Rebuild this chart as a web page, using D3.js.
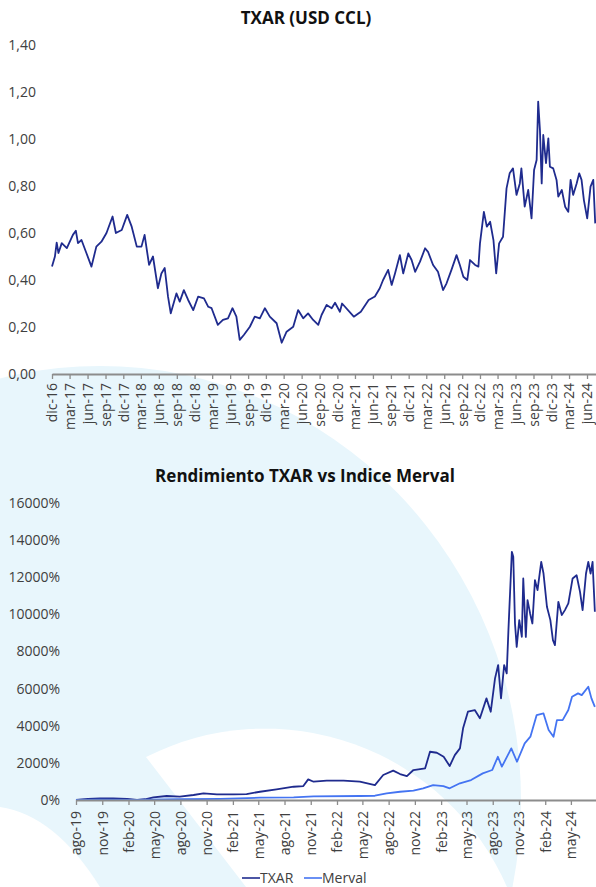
<!DOCTYPE html>
<html><head><meta charset="utf-8">
<script src="https://cdn.jsdelivr.net/npm/d3@7"></script>
<style>
html,body{margin:0;padding:0;background:#fff;}
svg{display:block;font-family:"Open Sans","Noto Sans",sans-serif;}
</style></head><body>
<svg id="c" width="596" height="887"></svg>
<script>
// ---------- DATA ----------
const priceDates = ["2016-12-01","2016-12-16","2016-12-25","2017-01-03","2017-01-20","2017-02-15","2017-03-18","2017-04-02","2017-04-13","2017-05-01","2017-05-26","2017-06-21","2017-07-16","2017-08-11","2017-09-06","2017-10-07","2017-10-24","2017-11-23","2017-12-21","2018-01-13","2018-02-08","2018-03-04","2018-03-20","2018-04-12","2018-05-02","2018-05-27","2018-06-14","2018-07-01","2018-07-18","2018-08-01","2018-08-30","2018-09-16","2018-10-07","2018-10-29","2018-11-24","2018-12-19","2019-01-18","2019-02-09","2019-02-26","2019-03-30","2019-04-25","2019-05-21","2019-06-13","2019-07-03","2019-07-20","2019-08-10","2019-09-10","2019-10-05","2019-10-31","2019-11-26","2019-12-21","2020-01-25","2020-02-20","2020-03-16","2020-04-19","2020-05-14","2020-06-09","2020-07-04","2020-07-30","2020-08-25","2020-09-11","2020-10-07","2020-11-02","2020-11-19","2020-12-14","2020-12-25","2021-02-23","2021-03-31","2021-05-10","2021-06-11","2021-07-06","2021-07-23","2021-08-18","2021-09-05","2021-09-22","2021-10-17","2021-11-03","2021-11-29","2021-12-16","2022-01-03","2022-01-28","2022-02-23","2022-03-10","2022-04-05","2022-04-30","2022-05-26","2022-06-13","2022-07-08","2022-08-03","2022-08-20","2022-09-07","2022-09-27","2022-10-11","2022-11-06","2022-11-23","2022-12-01","2022-12-21","2023-01-05","2023-01-22","2023-02-08","2023-02-22","2023-03-09","2023-03-29","2023-04-16","2023-05-02","2023-05-19","2023-06-06","2023-06-23","2023-07-01","2023-07-18","2023-08-05","2023-08-22","2023-09-04","2023-09-17","2023-09-25","2023-10-04","2023-10-13","2023-10-21","2023-11-04","2023-11-16","2023-11-24","2023-12-11","2023-12-28","2024-01-06","2024-01-24","2024-02-10","2024-02-26","2024-03-09","2024-03-22","2024-04-09","2024-04-22","2024-05-04","2024-05-16","2024-06-02","2024-06-19","2024-07-03","2024-07-13"];
const priceValues = [0.457,0.50,0.559,0.515,0.557,0.536,0.592,0.61,0.557,0.57,0.515,0.457,0.542,0.563,0.60,0.67,0.60,0.613,0.677,0.627,0.542,0.542,0.592,0.464,0.50,0.365,0.428,0.451,0.329,0.258,0.343,0.308,0.357,0.315,0.272,0.329,0.322,0.286,0.28,0.209,0.23,0.237,0.28,0.244,0.145,0.166,0.201,0.244,0.237,0.28,0.244,0.216,0.133,0.18,0.201,0.272,0.237,0.258,0.23,0.209,0.251,0.294,0.28,0.303,0.265,0.30,0.244,0.265,0.315,0.33,0.365,0.40,0.443,0.379,0.428,0.506,0.428,0.513,0.485,0.435,0.478,0.535,0.52,0.464,0.435,0.357,0.386,0.443,0.506,0.464,0.414,0.40,0.485,0.464,0.457,0.556,0.69,0.627,0.648,0.57,0.428,0.556,0.584,0.79,0.854,0.875,0.762,0.811,0.875,0.712,0.783,0.662,0.868,0.911,1.159,1.038,0.811,1.017,0.897,1.003,0.882,0.875,0.826,0.755,0.783,0.712,0.69,0.826,0.762,0.811,0.854,0.826,0.74,0.662,0.797,0.826,0.641];
const priceTicks = [0,0.2,0.4,0.6,0.8,1.0,1.2,1.4];
const priceMonthLabels = ["dic-16","mar-17","jun-17","sep-17","dic-17","mar-18","jun-18","sep-18","dic-18","mar-19","jun-19","sep-19","dic-19","mar-20","jun-20","sep-20","dic-20","mar-21","jun-21","sep-21","dic-21","mar-22","jun-22","sep-22","dic-22","mar-23","jun-23","sep-23","dic-23","mar-24","jun-24"];

const txarRetDates = ["2019-08-01","2019-09-12","2019-10-24","2019-12-09","2020-01-27","2020-03-02","2020-03-30","2020-04-28","2020-06-14","2020-07-30","2020-09-16","2020-10-21","2020-12-07","2021-02-04","2021-03-21","2021-05-07","2021-07-04","2021-09-02","2021-10-06","2021-10-23","2021-11-11","2021-12-27","2022-02-24","2022-04-22","2022-06-14","2022-07-13","2022-08-17","2022-09-10","2022-10-04","2022-10-27","2022-12-07","2022-12-24","2023-01-17","2023-02-10","2023-03-03","2023-03-21","2023-04-08","2023-04-19","2023-05-06","2023-05-30","2023-06-17","2023-07-10","2023-07-25","2023-08-09","2023-08-20","2023-08-30","2023-09-10","2023-09-19","2023-09-25","2023-10-07","2023-10-12","2023-10-18","2023-10-24","2023-11-02","2023-11-11","2023-11-16","2023-11-25","2023-12-01","2023-12-10","2023-12-18","2023-12-27","2024-01-05","2024-01-18","2024-01-26","2024-02-07","2024-02-19","2024-02-28","2024-03-06","2024-03-18","2024-03-30","2024-04-10","2024-04-22","2024-05-07","2024-05-21","2024-06-02","2024-06-11","2024-06-23","2024-07-01","2024-07-09","2024-07-16","2024-07-24"];
const txarRetValues = [0,60,90,80,55,0,40,145,215,180,270,360,305,305,320,445,575,715,750,1110,985,1040,1040,985,805,1345,1580,1400,1290,1615,1705,2600,2545,2330,1830,2420,2780,3860,4755,4845,4400,5475,4755,6550,7270,5475,7270,6820,9150,13370,13100,9510,8250,9690,8790,11935,8790,10770,10050,9510,11845,11305,12830,12200,10410,9690,8610,8345,10675,9960,10230,10590,11935,12110,11215,10230,12200,12830,12200,12830,10140];

const mervalRetDates = ["2019-08-01","2019-10-24","2020-03-02","2020-07-30","2020-12-19","2021-05-07","2021-09-02","2021-11-11","2022-04-22","2022-06-14","2022-07-25","2022-09-10","2022-10-27","2022-11-30","2023-01-04","2023-02-09","2023-03-03","2023-04-08","2023-05-17","2023-06-27","2023-07-30","2023-08-19","2023-09-02","2023-10-05","2023-10-25","2023-11-21","2023-12-11","2024-01-02","2024-01-26","2024-02-13","2024-03-01","2024-03-13","2024-04-02","2024-04-22","2024-05-05","2024-05-26","2024-06-08","2024-07-01","2024-07-12","2024-07-24"];
const mervalRetValues = [0,20,0,40,60,125,145,200,215,230,360,445,500,630,805,750,630,900,1075,1435,1615,2330,1795,2780,2060,3050,3410,4575,4665,3770,3410,4305,4305,4845,5560,5745,5650,6100,5475,5020];

const retTicks = [0,2000,4000,6000,8000,10000,12000,14000,16000];
const retMonthLabels = ["ago-19","nov-19","feb-20","may-20","ago-20","nov-20","feb-21","may-21","ago-21","nov-21","feb-22","may-22","ago-22","nov-22","feb-23","may-23","ago-23","nov-23","feb-24","may-24"];
const seriesNames = ["TXAR","Merval"];

// ---------- SETUP ----------
const esTime = d3.timeFormatLocale({
  dateTime:"%x, %X", date:"%d/%m/%Y", time:"%H:%M:%S", periods:["AM","PM"],
  days:["domingo","lunes","martes","miércoles","jueves","viernes","sábado"],
  shortDays:["dom","lun","mar","mié","jue","vie","sáb"],
  months:["enero","febrero","marzo","abril","mayo","junio","julio","agosto","septiembre","octubre","noviembre","diciembre"],
  shortMonths:["ene","feb","mar","abr","may","jun","jul","ago","sep","oct","nov","dic"]
});
const parseMon = esTime.parse("%b-%y");
const parseDay = d3.timeParse("%Y-%m-%d");
const esNum = d3.formatLocale({decimal:",", thousands:".", grouping:[3], currency:["$",""]});
const fmt2 = esNum.format(".2f");

const svg = d3.select("#c");
const C_NAVY = "#1f2b8e", C_BLUE = "#4474f2", C_AXIS = "#8c8c8c", C_TXT = "#404040", C_BG = "#e8f6fc";
const FONT = '"Open Sans","Noto Sans",sans-serif';

// background watermark
const bg = svg.append("g");
bg.append("rect").attr("width",596).attr("height",887).attr("fill","#fff");
bg.append("ellipse").attr("cx",100).attr("cy",800).attr("rx",421).attr("ry",434).attr("fill",C_BG);
bg.append("path").attr("d","M146,757 A264,264 0 0 1 507,887 L507,900 L256,900 Z").attr("fill","#fff");
bg.append("path").attr("d","M0,807 Q55,815 100,887 L0,887 Z").attr("fill","#fff");

function drawAxis(g, scale, labels, labelOffset) {
  const ticks = labels.map(parseMon);
  g.call(d3.axisBottom(scale).tickValues(ticks).tickFormat((d,i)=>labels[i]).tickSize(5).tickSizeOuter(0));
  g.select(".domain").attr("stroke",C_AXIS).attr("stroke-width",2);
  g.selectAll(".tick line").attr("stroke",C_AXIS).attr("stroke-width",1.3);
  g.selectAll(".tick text")
    .attr("transform","rotate(-90)")
    .attr("text-anchor","end")
    .attr("x",-labelOffset).attr("y",0).attr("dy","0.35em")
    .attr("fill",C_TXT).style("font-size","14px").style("font-family",FONT);
}

// ---------- TOP CHART ----------
const xTop = d3.scaleTime().domain([parseDay("2016-12-01"), parseDay("2024-07-17")]).range([52,596]);
const yTop = d3.scaleLinear().domain([0,1.4]).range([374,45]);
svg.append("text").attr("x",306).attr("y",24).attr("text-anchor","middle")
  .style("font-size","17px").style("font-weight","bold").attr("fill","#111").text("TXAR (USD CCL)");
svg.append("g").selectAll("text").data(priceTicks).join("text")
  .attr("x",36).attr("y",d=>yTop(d)).attr("dy","0.35em").attr("text-anchor","end")
  .attr("fill",C_TXT).style("font-size","14px").text(d=>fmt2(d));
const priceData = priceDates.map((d,i)=>({date:parseDay(d), v:priceValues[i]}));
svg.append("path").datum(priceData)
  .attr("fill","none").attr("stroke",C_NAVY).attr("stroke-width",1.8).attr("stroke-linejoin","round")
  .attr("d", d3.line().x(d=>xTop(d.date)).y(d=>yTop(d.v)));
drawAxis(svg.append("g").attr("transform","translate(0,374)"), xTop, priceMonthLabels, 9);

// ---------- BOTTOM CHART ----------
const xBot = d3.scaleTime().domain([parseDay("2019-08-01"), parseDay("2024-07-28")]).range([76,596]);
const yBot = d3.scaleLinear().domain([0,16000]).range([800,503]);
svg.append("text").attr("x",305).attr("y",482).attr("text-anchor","middle")
  .style("font-size","17px").style("font-weight","bold").attr("fill","#111").text("Rendimiento TXAR vs Indice Merval");
svg.append("g").selectAll("text").data(retTicks).join("text")
  .attr("x",60).attr("y",d=>yBot(d)).attr("dy","0.35em").attr("text-anchor","end")
  .attr("fill",C_TXT).style("font-size","14px").text(d=>d+"%");
const lineBot = d3.line().x(d=>xBot(d.date)).y(d=>yBot(d.v));
const txarData = txarRetDates.map((d,i)=>({date:parseDay(d), v:txarRetValues[i]}));
const mervalData = mervalRetDates.map((d,i)=>({date:parseDay(d), v:mervalRetValues[i]}));
svg.append("path").datum(txarData).attr("fill","none").attr("stroke",C_NAVY).attr("stroke-width",1.8).attr("stroke-linejoin","round").attr("d",lineBot);
svg.append("path").datum(mervalData).attr("fill","none").attr("stroke",C_BLUE).attr("stroke-width",1.8).attr("stroke-linejoin","round").attr("d",lineBot);
drawAxis(svg.append("g").attr("transform","translate(0,800)"), xBot, retMonthLabels, 11);

// legend
const leg = svg.append("g");
const legItems = [{name:seriesNames[0], color:C_NAVY, x:242},{name:seriesNames[1], color:C_BLUE, x:304}];
legItems.forEach(it=>{
  leg.append("line").attr("x1",it.x).attr("x2",it.x+18).attr("y1",878).attr("y2",878).attr("stroke",it.color).attr("stroke-width",1.6);
  leg.append("text").attr("x",it.x+18).attr("y",878).attr("dy","0.35em").attr("fill",C_TXT).style("font-size","14px").text(it.name);
});
</script>
</body></html>
